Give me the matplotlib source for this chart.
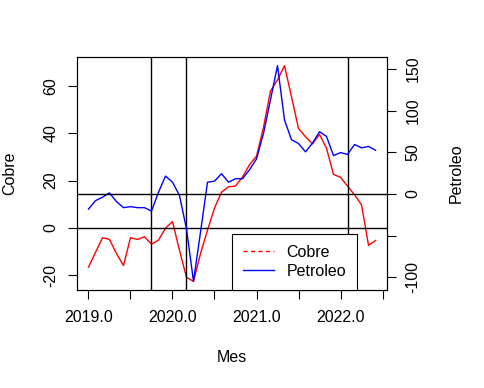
import numpy as np
import matplotlib
matplotlib.use('Agg')
import matplotlib.pyplot as plt
from matplotlib.lines import Line2D

plt.rcParams['font.family'] = ['Liberation Sans', 'DejaVu Sans']

# monthly series, Jan 2019 .. Jun 2022
start_year = 2019
cobre = [-16.5, -10.3, -4.1, -4.8, -10.8, -15.8, -4.1, -4.8, -3.7, -6.8,
         -5.1, -0.1, 2.7, -9.4, -20.8, -22.5, -10.8, -0.9, 8.4, 15.1,
         17.4, 17.7, 21.5, 26.7, 30.3, 42.5, 57.8, 62.5, 68.5, 55.4,
         42.0, 38.5, 35.5, 39.5, 33.6, 22.6, 21.4, 17.7, 14.0, 9.8,
         -7.3, -5.3]
petroleo = [-18.2, -8.1, -4.0, 1.2, -9.3, -16.5, -15.3, -16.5, -16.5, -20.6,
            2.0, 21.4, 14.1, -2.0, -42.0, -105.0, -46.0, 14.0, 15.3, 24.2,
            14.1, 18.2, 18.2, 29.0, 42.0, 72.6, 113.0, 154.0, 88.7, 65.0,
            60.5, 50.5, 61.0, 74.7, 69.0, 46.0, 49.6, 47.4, 59.3, 55.3,
            57.0, 52.4]

x_ticks = [2019.0, 2019.5, 2020.0, 2020.5, 2021.0, 2021.5, 2022.0, 2022.5]
x_tick_labels = ['2019.0', '', '2020.0', '', '2021.0', '', '2022.0', '']
cobre_ticks = [-20, 0, 20, 40, 60]
petroleo_ticks = [-100, -50, 0, 50, 100, 150]
petroleo_tick_labels = ['-100', '', '0', '50', '100', '150']
event_lines = [2019 + 9 / 12, 2020 + 2 / 12, 2022 + 1 / 12]

mes = start_year + np.arange(len(cobre)) / 12


def pad_lim(v, f=0.04):
    lo, hi = np.min(v), np.max(v)
    r = hi - lo
    return lo - f * r, hi + f * r


fs = 11.5
fig = plt.figure(figsize=(4.85, 3.88), dpi=100)
ax = fig.add_axes([77 / 485, 1 - 290 / 388, 310 / 485, 233 / 388])

ax.plot(mes, cobre, color='red', lw=1)
ax.set_xlim(pad_lim(mes))
ax.set_ylim(pad_lim(cobre))
ax.axhline(0, color='black', lw=1)
for v in event_lines:
    ax.axvline(v, color='black', lw=1)

ax.set_xticks(x_ticks)
ax.set_xticklabels(x_tick_labels)
ax.set_yticks(cobre_ticks)
ax.set_yticklabels([str(t) for t in cobre_ticks], rotation=90, va='center')
ax.tick_params(direction='out', length=6.5, width=0.8, labelsize=fs, pad=7)
ax.tick_params(axis='x', pad=8)

ax2 = ax.twinx()
ax2.plot(mes, petroleo, color='blue', lw=1)
ax2.set_ylim(pad_lim(petroleo))
ax2.axhline(0, color='black', lw=1)
ax2.set_yticks(petroleo_ticks)
ax2.set_yticklabels(petroleo_tick_labels, rotation=90, va='center')
ax2.tick_params(direction='out', length=6.5, width=0.8, labelsize=fs, pad=7)

for a in (ax, ax2):
    for s in a.spines.values():
        s.set_linewidth(0.8)

ax.set_xlabel('Mes', fontsize=fs)
ax.xaxis.set_label_coords(0.5, (290 - 357) / 233)
ax.xaxis.label.set_va('center')
ax.set_ylabel('Cobre', fontsize=fs)
ax.yaxis.set_label_coords((10 - 77) / 310, 0.5)
ax.yaxis.label.set_va('center')
ax2.set_ylabel('Petroleo', fontsize=fs)
ax2.yaxis.set_label_coords((456 - 77) / 310, 0.5)
ax2.yaxis.label.set_va('center')

handles = [Line2D([], [], color='red', lw=1, ls=(0, (3, 2.4))),
           Line2D([], [], color='blue', lw=1)]
leg = ax2.legend(handles, ['Cobre', 'Petroleo'], loc='lower left',
                 bbox_to_anchor=(0.5, 0), borderaxespad=0, fancybox=False,
                 edgecolor='black', framealpha=1, fontsize=fs,
                 handlelength=1.9, handletextpad=0.8, labelspacing=0.25,
                 borderpad=0.7)
leg.get_frame().set_linewidth(0.8)

fig.savefig('out.png', dpi=100)
